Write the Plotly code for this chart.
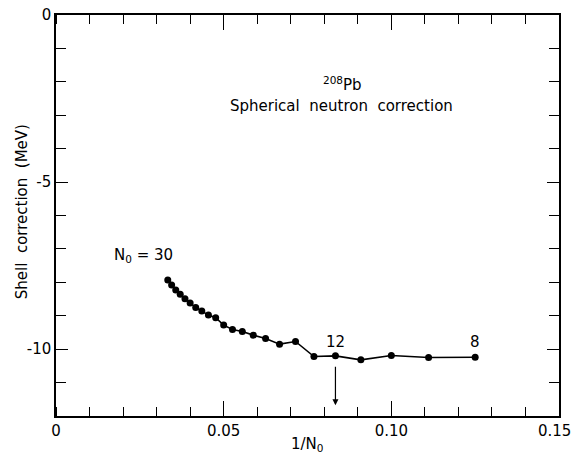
import plotly.graph_objects as go

N0 = [30, 29, 28, 27, 26, 25, 24, 23, 22, 21, 20, 19, 18, 17, 16, 15, 14, 13, 12, 11, 10, 9, 8]
shell_corr = [-7.93, -8.08, -8.23, -8.36, -8.49, -8.62, -8.75, -8.86, -8.98, -9.06, -9.28, -9.41,
              -9.47, -9.58, -9.68, -9.85, -9.77, -10.22, -10.20, -10.32, -10.19, -10.25, -10.24]
x_vals = [1.0 / n for n in N0]

x_tickvals = [0, 0.05, 0.10, 0.1487]
x_ticktext = ["0", "0.05", "0.10", "0.15"]
y_tickvals = [0, -5, -10]
y_ticktext = ["0", "-5", "-10"]

FONT = "DejaVu Sans"

fig = go.Figure()
fig.add_trace(go.Scatter(
    x=x_vals, y=shell_corr, mode="lines+markers",
    line=dict(color="black", width=1.6),
    marker=dict(color="black", size=7),
    showlegend=False, hoverinfo="skip",
))

fig.update_xaxes(
    range=[0, 0.15], tickvals=x_tickvals, ticktext=x_ticktext,
    ticks="", ticklen=15, tickwidth=1.2, tickcolor="black",
    minor=dict(dtick=0.01, tick0=0, ticks="inside", ticklen=9, tickwidth=1.2, tickcolor="black"),
    showline=True, linecolor="black", linewidth=1.5, mirror="ticks",
    showgrid=False, zeroline=False, automargin=False, ticklabeloverflow="allow",
    tickfont=dict(family=FONT, size=15, color="black"),
)
fig.update_yaxes(
    range=[-12, 0], tickvals=y_tickvals, ticktext=y_ticktext,
    ticks="inside", ticklen=12, tickwidth=1.2, tickcolor="black",
    minor=dict(dtick=1, tick0=0, ticks="inside", ticklen=10, tickwidth=1.2, tickcolor="black"),
    showline=True, linecolor="black", linewidth=1.5, mirror="ticks",
    showgrid=False, zeroline=False, automargin=False, ticklabeloverflow="allow",
    tickfont=dict(family=FONT, size=15, color="black"),
)

# longer major ticks at 0.05 and 0.10 (top and bottom), drawn through a hidden overlay axis
fig.update_layout(xaxis2=dict(
    overlaying="x", range=[0, 0.15], tickvals=[0.05, 0.10], showticklabels=False,
    ticks="inside", ticklen=15, tickwidth=1.2, tickcolor="black",
    showline=True, linecolor="black", linewidth=1.5, mirror="ticks",
    showgrid=False, zeroline=False, automargin=False, side="bottom",
))
fig.add_trace(go.Scatter(x=[None], y=[None], xaxis="x2", yaxis="y", showlegend=False, hoverinfo="skip"))

ann = [
    dict(x=0.026, y=-7.19, text="N<sub>0</sub> = 30", font=dict(size=15)),
    dict(x=1/12, y=-9.79, text="12", font=dict(size=15)),
    dict(x=1/8, y=-9.79, text="8", font=dict(size=15)),
    dict(x=0.0855, y=-2.05, text="<sup>208</sup>Pb", font=dict(size=15)),
    dict(x=0.085, y=-2.72, text="Spherical  neutron  correction", font=dict(size=15)),
]
for a in ann:
    fig.add_annotation(xref="x", yref="y", showarrow=False, **a)

fig.add_annotation(
    xref="x", yref="y", axref="x", ayref="y",
    x=1/12, y=-11.68, ax=1/12, ay=-10.48,
    showarrow=True, arrowhead=2, arrowsize=1, arrowwidth=1.2, arrowcolor="black", text="",
)

fig.add_annotation(
    xref="paper", yref="paper", x=0.5, y=-0.043, yanchor="top", showarrow=False,
    text="1/N<sub>0</sub>", font=dict(size=15),
)
fig.add_annotation(
    xref="paper", yref="paper", x=-0.088, y=0.51, textangle=-90, showarrow=False,
    text="Shell  correction  (MeV)", font=dict(size=15),
)

fig.update_layout(
    width=571, height=456,
    margin=dict(l=56, r=12, t=15, b=40, autoexpand=False),
    paper_bgcolor="white", plot_bgcolor="white",
    font=dict(family=FONT, color="black"),
)

fig.write_html("out.html", config={"displayModeBar": False},
               post_script="document.body.style.margin='0';document.body.style.overflow='hidden';")
